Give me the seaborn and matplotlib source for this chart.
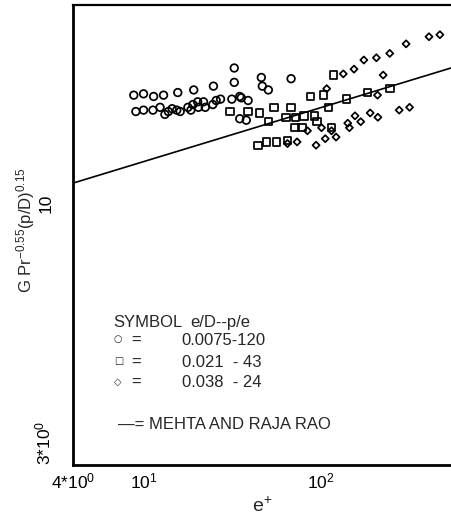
import matplotlib
matplotlib.use("Agg")
import matplotlib.pyplot as plt
from matplotlib.ticker import FixedLocator, NullFormatter
import pandas as pd
import seaborn as sns

sns.set_style("white")
plt.rcParams['font.family'] = ['Liberation Sans', 'DejaVu Sans']
plt.rcParams['mathtext.fontset'] = 'custom'
plt.rcParams['mathtext.rm'] = 'Liberation Sans'
plt.rcParams['mathtext.it'] = 'Liberation Sans'

# e/D = 0.0075, p/e = 120 (circles)
e_circ = [8.81, 10.0, 11.4, 12.97, 15.6, 19.2, 24.8, 32.5, 32.5,
          9.05, 10.0, 11.3, 12.4, 13.2, 13.8, 14.5, 15.4, 16.1, 17.8, 18.5,
          19.0, 20.2, 20.4, 22.3, 21.8, 24.6, 25.7, 27.2, 31.5, 34.9, 35.6,
          38.9, 34.9, 38.0, 46.2, 46.8, 50.6, 68.0]
g_circ = [16.5, 16.6, 16.4, 16.5, 16.7, 16.9, 17.2, 18.7, 17.5,
          15.3, 15.4, 15.4, 15.6, 15.1, 15.3, 15.5, 15.4, 15.3, 15.6, 15.4,
          15.8, 16.0, 15.6, 15.6, 16.0, 15.8, 16.1, 16.2, 16.2, 16.4, 16.3,
          16.1, 14.8, 14.7, 17.9, 17.2, 16.9, 17.8]

# e/D = 0.021, p/e = 43 (squares)
e_sq = [44.2, 49.3, 56.2, 64.9, 71.6, 78.4, 115, 95.3, 92.5, 80.4, 71.9, 63.7,
        68.0, 54.5, 45.2, 50.8, 87.8, 104, 140, 111, 118, 183, 246, 30.7, 38.9]
g_sq = [13.1, 13.3, 13.3, 13.4, 14.2, 14.2, 14.2, 14.6, 15.0, 15.0, 14.9, 14.9,
        15.6, 15.6, 15.2, 14.6, 16.4, 16.5, 16.2, 15.6, 18.1, 16.7, 17.0, 15.3, 15.3]

# e/D = 0.038, p/e = 24 (diamonds)
e_dia = [134, 154, 175, 206, 245, 303, 408, 470, 225, 108, 209,
         64.9, 73.5, 94.1, 106, 122, 115, 101, 84.1, 142, 145, 156, 168,
         190, 210, 277, 317]
g_dia = [18.2, 18.6, 19.4, 19.6, 20.0, 20.9, 21.6, 21.8, 18.1, 17.0, 16.5,
         13.2, 13.3, 13.1, 13.5, 13.6, 14.0, 14.2, 14.0, 14.5, 14.2, 15.0, 14.6,
         15.2, 14.9, 15.4, 15.6]

# Mehta and Raja Rao correlation
e_line = [4.0, 543]
g_line = [11.0, 18.7]

fig = plt.figure(figsize=(4.51, 5.18), dpi=100)
ax = fig.add_axes([73 / 451, 53 / 518, 378 / 451, 460 / 518])

sns.lineplot(x=e_line, y=g_line, ax=ax, color='black', linewidth=1.2)

sets = [
    (e_circ, g_circ, 'o', 30),
    (e_sq, g_sq, 's', 28),
    (e_dia, g_dia, 'D', 13),
]
for ex, gy, mk, sz in sets:
    df = pd.DataFrame({'e': ex, 'G': gy})
    sns.scatterplot(data=df, x='e', y='G', ax=ax, marker=mk, s=sz,
                    facecolor='none', edgecolor='black', linewidth=1.25, zorder=3)

ax.set_xscale('log')
ax.set_yscale('log')
ax.set_xlim(4, 543)
ax.set_ylim(3, 25)

# ticks
ax.xaxis.set_major_locator(FixedLocator([4, 10, 100]))
ax.xaxis.set_minor_locator(FixedLocator([5, 6, 7, 8, 9, 20, 30, 40, 50, 60, 70, 80, 90,
                                         200, 300, 400, 500]))
ax.set_xticklabels([r'$4{*}10^{0}$', r'$10^{1}$', r'$10^{2}$'])
ax.xaxis.set_minor_formatter(NullFormatter())

ax.yaxis.set_major_locator(FixedLocator([3, 10]))
ax.yaxis.set_minor_locator(FixedLocator([4, 5, 6, 7, 8, 9, 20]))
ax.set_yticklabels([r'$3{*}10^{0}$', '10'])
ax.yaxis.set_minor_formatter(NullFormatter())

ax.tick_params(axis='x', which='major', direction='in', length=5, width=0.9,
               pad=5, labelsize=12.5, colors='black')
ax.tick_params(axis='x', which='minor', direction='in', length=3.5, width=0.9)
ax.tick_params(axis='y', which='both', direction='in', length=6, width=0.9,
               pad=14, labelsize=12.5, colors='black')
for lab in ax.get_yticklabels():
    lab.set_rotation(90)
    lab.set_va('center')
ax.get_yticklabels()[0].set_va('bottom')

for side in ['left', 'bottom']:
    ax.spines[side].set_linewidth(2.0)
    ax.spines[side].set_color('black')
ax.spines['top'].set_linewidth(1.6)
ax.spines['top'].set_color('black')
ax.spines['right'].set_visible(False)

ax.set_xlabel(r'e$^{+}$', fontsize=14)
ax.xaxis.set_label_coords(0.5, -0.068)
ax.set_ylabel(r'G Pr$^{-0.55}$(p/D)$^{0.15}$', fontsize=12)
ax.yaxis.set_label_coords(-0.095, 0.51)

# symbol key
fs = 12
ax.text(0.106, 0.30, 'SYMBOL', transform=ax.transAxes, fontsize=fs)
ax.text(0.31, 0.30, 'e/D--p/e', transform=ax.transAxes, fontsize=fs)
keys = [('\u25cb', '0.0075-120', 0.261),
        ('\u25a1', '0.021  - 43', 0.2137),
        ('\u25c7', '0.038  - 24', 0.169)]
for sym, val, yy in keys:
    ax.text(0.108, yy + 0.006, sym, transform=ax.transAxes, fontsize=7,
            family=['DejaVu Sans'])
    ax.text(0.155, yy, '=', transform=ax.transAxes, fontsize=fs)
    ax.text(0.288, yy, val, transform=ax.transAxes, fontsize=fs)
ax.text(0.119, 0.0776, '\u2014= MEHTA AND RAJA RAO', transform=ax.transAxes,
        fontsize=fs)

fig.savefig('out.png', dpi=100)
